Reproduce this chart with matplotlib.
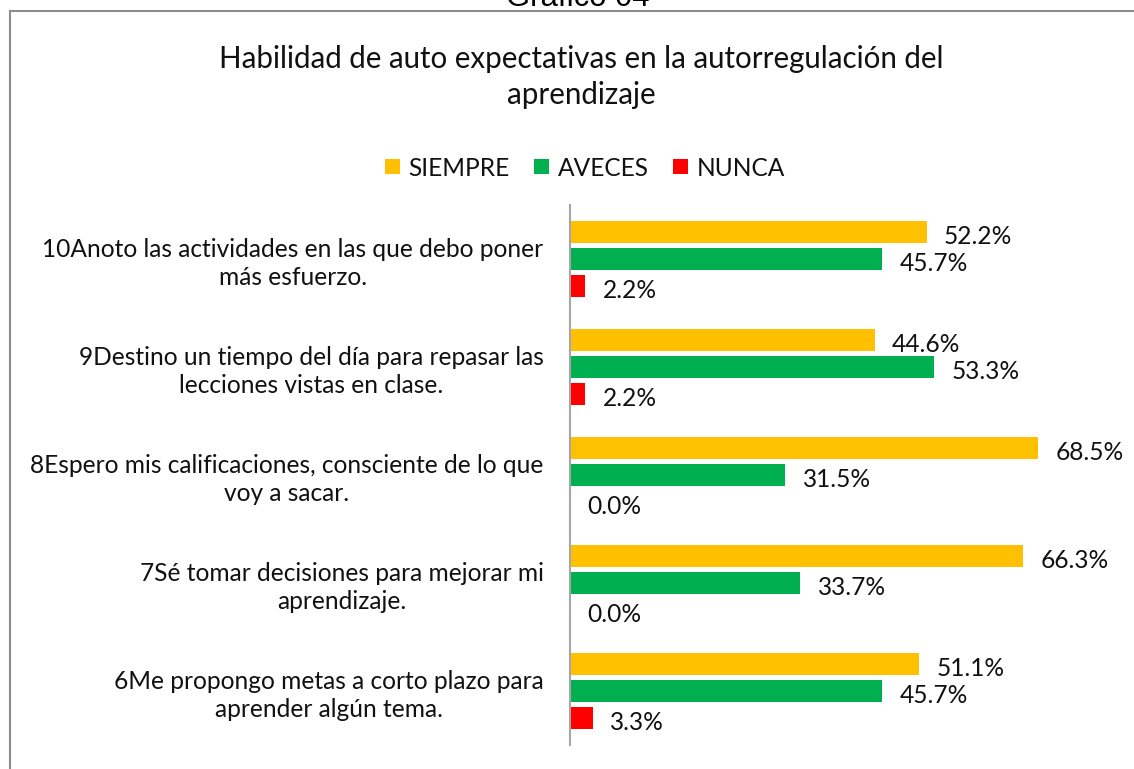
import matplotlib
matplotlib.use("Agg")
import matplotlib.pyplot as plt
from matplotlib.patches import Patch
import numpy as np

categories = [
    "10Anoto las actividades en las que debo poner\nmás esfuerzo.",
    "9Destino un tiempo del día para repasar las\nlecciones vistas en clase.",
    "8Espero mis calificaciones, consciente de lo que\nvoy a sacar.",
    "7Sé tomar decisiones para mejorar mi\naprendizaje.",
    "6Me propongo metas a corto plazo para\naprender algún tema.",
]
siempre = [52.2, 44.6, 68.5, 66.3, 51.1]
aveces = [45.7, 53.3, 31.5, 33.7, 45.7]
nunca = [2.2, 2.2, 0.0, 0.0, 3.3]
series_names = ["SIEMPRE", "AVECES", "NUNCA"]
colors = ["#FFC000", "#00B050", "#FF0000"]
title = "Habilidad de auto expectativas en la autorregulación del\naprendizaje"
caption = "Gráfico 04"

W, H = 1134, 769
plt.rcParams['font.family'] = ['Lato', 'DejaVu Sans']
fig = plt.figure(figsize=(W / 100, H / 100), dpi=100)
renderer = fig.canvas.get_renderer()


def fit_size(text, target_px, family=None, base=20):
    kw = {} if family is None else {"family": family}
    t = fig.text(0, 0, text, fontsize=base, **kw)
    w = t.get_window_extent(renderer=renderer).width
    t.remove()
    return base * target_px / w


lab_fs = fit_size(categories[0].split("\n")[0], 502)
title_fs = fit_size(title.split("\n")[0], 727)
cap_fs = fit_size(caption, 143, family="Liberation Sans")

# outer frame (chart border, cut at right/bottom)
fig.add_artist(plt.Line2D([10 / W, 10 / W], [0, 1 - 11 / H], transform=fig.transFigure,
                          color="#8c8c8c", lw=1.5))
fig.add_artist(plt.Line2D([10 / W, 1], [1 - 11 / H, 1 - 11 / H], transform=fig.transFigure,
                          color="#8c8c8c", lw=1.5))

fig.text(578 / W, 1 - 6 / H, caption, ha="center", va="baseline",
         fontsize=cap_fs, family="Liberation Sans", color="black")

fig.text(581 / W, 1 - 77 / H, title, ha="center", va="center", fontsize=title_fs,
         color="#111111", linespacing=1.35)

ax = fig.add_axes([570 / W, 1 - 745 / H, (1100 - 570) / W, (745 - 205) / H])
n = len(categories)
y = np.arange(n)
bh = 0.205
step = 0.25
data = [siempre, aveces, nunca]
for i, (vals, c) in enumerate(zip(data, colors)):
    ypos = y - step + i * step
    ax.barh(ypos, vals, height=bh, color=c, label=series_names[i])
    for yy, v in zip(ypos, vals):
        ax.annotate(f"{v:.1f}%", xy=(v, yy), xytext=(12.5, -3), textcoords="offset points",
                    ha="left", va="center", fontsize=lab_fs, color="#111111")

ax.set_xlim(0, 77.6)
ax.set_ylim(n - 0.5, -0.5)
ax.set_yticks(y)
ax.set_yticklabels(categories, fontsize=lab_fs, color="#111111", linespacing=1.25,
                   multialignment="center")
ax.tick_params(axis="y", length=0, pad=19)
ax.set_xticks([])
for s in ["top", "right", "bottom"]:
    ax.spines[s].set_visible(False)
ax.spines["left"].set_color("#a6a6a6")
ax.spines["left"].set_linewidth(1.5)

handles = [Patch(facecolor=c, edgecolor="none") for c in colors]
fig.legend(handles, series_names, loc="center", bbox_to_anchor=(585 / W, 1 - 168 / H),
           ncol=3, frameon=False, fontsize=lab_fs, handlelength=0.6, handleheight=0.55,
           handletextpad=0.35, columnspacing=1.0, labelcolor="#111111")

fig.savefig("out.png", dpi=100)
